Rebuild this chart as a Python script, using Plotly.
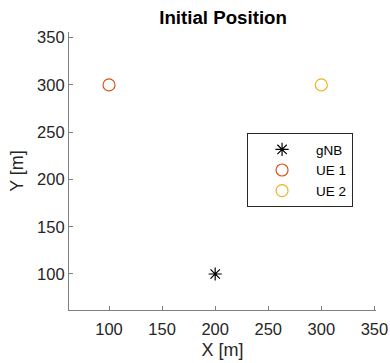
import plotly.graph_objects as go

# Data
gnb_x = [200]
gnb_y = [100]
ue1_x = [100]
ue1_y = [300]
ue2_x = [300]
ue2_y = [300]
x_ticks = [100, 150, 200, 250, 300, 350]
y_ticks = [100, 150, 200, 250, 300, 350]

FONT = "Liberation Sans, Arial, sans-serif"

fig = go.Figure()
fig.add_trace(go.Scatter(x=gnb_x, y=gnb_y, mode="markers", name="gNB",
                         marker=dict(symbol="asterisk-open", size=11, color="black",
                                     line=dict(color="black", width=1.2))))
fig.add_trace(go.Scatter(x=ue1_x, y=ue1_y, mode="markers", name="UE 1",
                         marker=dict(symbol="circle-open", size=12, color="#D95319",
                                     line=dict(color="#D95319", width=1.2))))
fig.add_trace(go.Scatter(x=ue2_x, y=ue2_y, mode="markers", name="UE 2",
                         marker=dict(symbol="circle-open", size=12, color="#EDB120",
                                     line=dict(color="#EDB120", width=1.2))))

axis_common = dict(showline=True, linecolor="#808080", linewidth=1.2,
                   ticks="inside", ticklen=4, tickcolor="#808080", tickwidth=1,
                   showgrid=False, zeroline=False, mirror=False, automargin=False,
                   tickfont=dict(family=FONT, size=16.5, color="#262626"))

fig.update_layout(
    width=390, height=363,
    margin=dict(l=69, r=14, t=32, b=53),
    paper_bgcolor="white", plot_bgcolor="white",
    title=dict(text="<b>Initial Position</b>", x=0.572, xanchor="center",
               y=0.952, yanchor="middle",
               font=dict(family=FONT, size=18.7, color="black")),
    xaxis=dict(range=[62.3, 351.5], tickvals=x_ticks, ticklabelstandoff=4,
               title=dict(text="X [m]", standoff=6,
                          font=dict(family=FONT, size=18, color="#262626")),
               **axis_common),
    yaxis=dict(range=[61.9, 356], tickvals=y_ticks,
               title=dict(text="Y [m]", standoff=8,
                          font=dict(family=FONT, size=18, color="#262626")),
               **axis_common),
    legend=dict(x=0.58, y=0.636, xanchor="left", yanchor="top",
                bordercolor="#262626", borderwidth=1, bgcolor="white",
                font=dict(family=FONT, size=13.5, color="black"),
                itemwidth=58, tracegroupgap=0),
    showlegend=True,
)

fig.write_html("out.html")
